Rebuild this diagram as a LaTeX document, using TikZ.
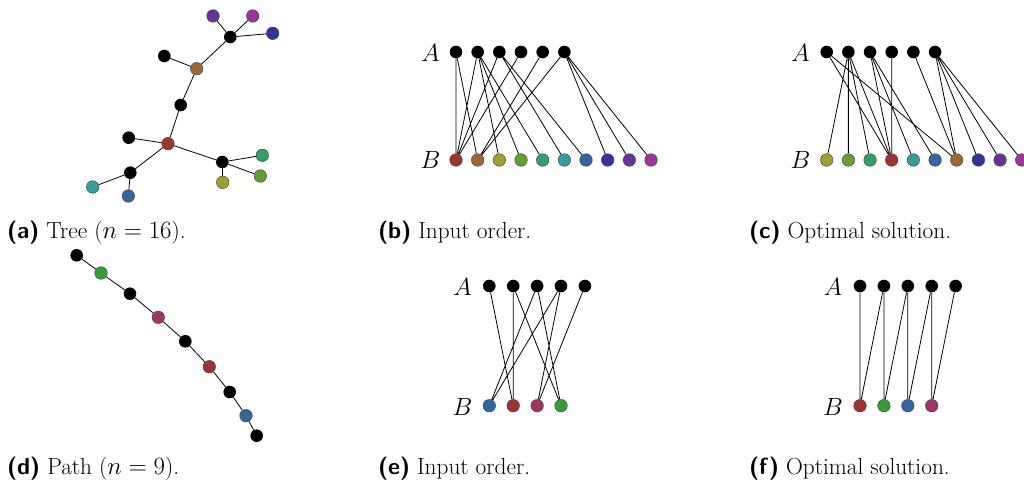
\documentclass[tikz,border=0pt]{standalone}
\usetikzlibrary{backgrounds}
\definecolor{cR}{HTML}{9E3333}
\definecolor{cBr}{HTML}{9E6633}
\definecolor{cOl}{HTML}{9E9E33}
\definecolor{cOg}{HTML}{669E33}
\definecolor{cGt}{HTML}{339E66}
\definecolor{cTe}{HTML}{339E9E}
\definecolor{cSt}{HTML}{33669E}
\definecolor{cBl}{HTML}{33339E}
\definecolor{cPu}{HTML}{66339E}
\definecolor{cMa}{HTML}{9E339E}
\definecolor{cGr}{HTML}{339E33}
\definecolor{cRo}{HTML}{9E3366}
\tikzset{
  bk/.style={circle,fill=black,inner sep=0pt,minimum size=12.6pt},
  cv/.style={circle,fill=#1,draw=black!75,line width=0.4pt,inner sep=0pt,minimum size=12.6pt},
  ed/.style={line width=0.8pt,black},
  side/.style={font=\fontsize{25}{28}\selectfont},
  captxt/.style={anchor=base west,inner sep=0pt,font=\fontsize{23.3}{28}\selectfont}
}
\newcommand{\lbl}[1]{\textsf{\textbf{(#1)}}}
\begin{document}
\begin{tikzpicture}[x=1pt,y=-1pt]
\useasboundingbox (0,0) rectangle (1024,486);
% ---------- (a) tree ----------
\node[bk] (h) at (230.3,37) {};
\node[cv=cPu] (pu) at (213,16) {};
\node[cv=cMa] (ma) at (252.7,16) {};
\node[cv=cBl] (bl) at (272.7,33.3) {};
\node[cv=cBr] (br) at (196.7,68.7) {};
\node[bk] (lf) at (164.3,56) {};
\node[bk] (md) at (180.7,105) {};
\node[cv=cR] (rd) at (168,143.7) {};
\node[bk] (ll) at (128.7,137.7) {};
\node[bk] (rb) at (222.3,162) {};
\node[cv=cGt] (gt) at (262.3,155.3) {};
\node[cv=cOg] (og) at (260.3,176) {};
\node[cv=cOl] (ol) at (222.7,182.3) {};
\node[bk] (lb) at (130.3,172.7) {};
\node[cv=cTe] (te) at (92.7,187) {};
\node[cv=cSt] (st) at (128.3,196) {};
\begin{pgfonlayer}{background}
\draw[ed] (h)--(pu) (h)--(ma) (h)--(bl) (h)--(br) (br)--(lf) (br)--(md) (md)--(rd)
  (rd)--(ll) (rd)--(rb) (rb)--(gt) (rb)--(og) (rb)--(ol) (rd)--(lb) (lb)--(te) (lb)--(st);
\end{pgfonlayer}
% ---------- (b) input order ----------
\node[side] (bA) at (430.5,53) {$A$};
\node[side] (bB) at (430.5,160.5) {$B$};
\foreach \i in {1,...,6} \node[bk] (bA\i) at ({456+21.67*(\i-1)},52) {};
\foreach \i/\c in {1/cR,2/cBr,3/cOl,4/cOg,5/cGt,6/cTe,7/cSt,8/cBl,9/cPu,10/cMa}
  \node[cv=\c] (bB\i) at ({456+21.67*(\i-1)},160) {};
\begin{pgfonlayer}{background}
\draw[ed] (bA1)--(bB1) (bA1)--(bB2)
  (bA2)--(bB1) (bA2)--(bB3) (bA2)--(bB4) (bA2)--(bB5)
  (bA3)--(bB1) (bA3)--(bB6) (bA3)--(bB7)
  (bA4)--(bB1) (bA5)--(bB2)
  (bA6)--(bB2) (bA6)--(bB8) (bA6)--(bB9) (bA6)--(bB10);
\end{pgfonlayer}
% ---------- (c) optimal ----------
\node[side] (cA) at (800.5,53) {$A$};
\node[side] (cB) at (800.5,160.5) {$B$};
\foreach \i in {1,...,6} \node[bk] (cA\i) at ({826.7+21.67*(\i-1)},52) {};
\foreach \i/\c in {1/cOl,2/cOg,3/cGt,4/cR,5/cTe,6/cSt,7/cBr,8/cBl,9/cPu,10/cMa}
  \node[cv=\c] (cB\i) at ({826.7+21.67*(\i-1)},160) {};
\begin{pgfonlayer}{background}
\draw[ed] (cA1)--(cB4) (cA1)--(cB7)
  (cA2)--(cB1) (cA2)--(cB2) (cA2)--(cB3) (cA2)--(cB4)
  (cA3)--(cB4) (cA3)--(cB5) (cA3)--(cB6)
  (cA4)--(cB4) (cA5)--(cB7)
  (cA6)--(cB7) (cA6)--(cB8) (cA6)--(cB9) (cA6)--(cB10);
\end{pgfonlayer}
% ---------- (d) path ----------
\node[bk] (p1) at (76.7,255.3) {};
\node[cv=cGr] (p2) at (101,273) {};
\node[bk] (p3) at (130,293.7) {};
\node[cv=cRo] (p4) at (158.3,317.3) {};
\node[bk] (p5) at (185.3,341.3) {};
\node[cv=cR] (p6) at (209.3,366.7) {};
\node[bk] (p7) at (229.7,392) {};
\node[cv=cSt] (p8) at (246,415.7) {};
\node[bk] (p9) at (256.7,435.7) {};
\begin{pgfonlayer}{background}
\draw[ed] (p1)--(p2)--(p3)--(p4)--(p5)--(p6)--(p7)--(p8)--(p9);
\end{pgfonlayer}
% ---------- (e) input order ----------
\node[side] (eA) at (462.5,287) {$A$};
\node[side] (eB) at (462.5,406.5) {$B$};
\foreach \i in {1,...,5} \node[bk] (eA\i) at ({489.3+23.9*(\i-1)},286) {};
\foreach \i/\c in {1/cSt,2/cR,3/cRo,4/cGr}
  \node[cv=\c] (eB\i) at ({489.3+23.9*(\i-1)},405.7) {};
\begin{pgfonlayer}{background}
\draw[ed] (eA1)--(eB2) (eA2)--(eB2) (eA2)--(eB4) (eA3)--(eB1) (eA3)--(eB4)
  (eA4)--(eB1) (eA4)--(eB3) (eA5)--(eB3);
\end{pgfonlayer}
% ---------- (f) optimal ----------
\node[side] (fA) at (833,287) {$A$};
\node[side] (fB) at (833,406.5) {$B$};
\foreach \i in {1,...,5} \node[bk] (fA\i) at ({860+23.9*(\i-1)},286) {};
\foreach \i/\c in {1/cR,2/cGr,3/cSt,4/cRo}
  \node[cv=\c] (fB\i) at ({860+23.9*(\i-1)},405.7) {};
\begin{pgfonlayer}{background}
\draw[ed] (fA1)--(fB1) (fA2)--(fB1) (fA2)--(fB2) (fA3)--(fB2) (fA3)--(fB3)
  (fA4)--(fB3) (fA4)--(fB4) (fA5)--(fB4);
\end{pgfonlayer}
% ---------- captions ----------
\node[captxt] (capa) at (7,238) {\lbl{a} Tree ($n = 16$).};
\node[captxt] (capb) at (378,238) {\lbl{b} Input order.};
\node[captxt] (capc) at (749,238) {\lbl{c} Optimal solution.};
\node[captxt] (capd) at (7,474) {\lbl{d} Path ($n = 9$).};
\node[captxt] (cape) at (378,474) {\lbl{e} Input order.};
\node[captxt] (capf) at (749,474) {\lbl{f} Optimal solution.};
\end{tikzpicture}
\end{document}
